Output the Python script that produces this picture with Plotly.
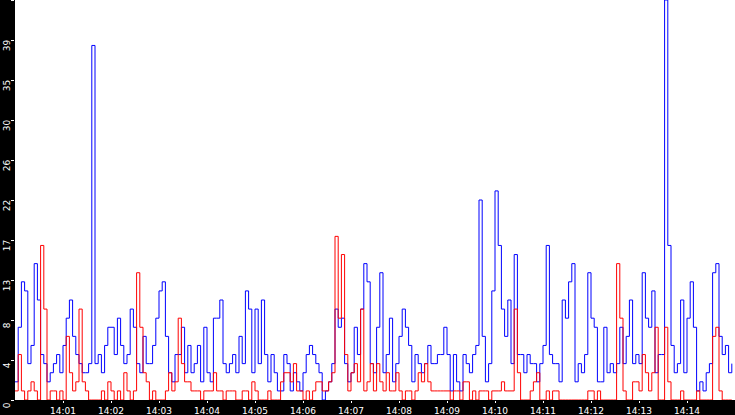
import pandas as pd
import plotly.graph_objects as go

# one sample every 4 s, 15 samples per minute, 14:00:00 -> 14:14:56
start = "2024-01-01 14:00:00"
step_s = 4

blue = [
    2, 8, 13, 12, 4, 6, 15, 11, 5, 4, 2, 3, 4, 5, 3,
    6, 9, 11, 7, 5, 4, 3, 3, 4, 39, 4, 5, 3, 6, 8,
    8, 5, 9, 6, 4, 5, 10, 8, 4, 3, 7, 4, 4, 6, 9,
    12, 13, 7, 3, 2, 5, 5, 8, 3, 6, 3, 4, 6, 2, 8,
    3, 2, 9, 9, 11, 4, 3, 4, 5, 3, 7, 4, 12, 10, 3,
    10, 4, 11, 5, 2, 5, 3, 1, 1, 5, 4, 1, 3, 2, 1,
    3, 5, 6, 5, 4, 3, 0, 1, 2, 4, 10, 8, 9, 4, 2,
    3, 8, 5, 10, 15, 13, 4, 3, 8, 14, 3, 5, 9, 2, 4,
    7, 10, 8, 6, 2, 5, 4, 3, 4, 6, 4, 4, 5, 5, 8,
    5, 1, 5, 2, 1, 5, 4, 3, 5, 6, 22, 7, 2, 4, 12,
    23, 17, 10, 7, 11, 4, 16, 5, 5, 3, 5, 4, 4, 2, 4,
    6, 17, 5, 4, 4, 2, 11, 9, 13, 15, 2, 4, 3, 5, 14,
    9, 8, 2, 2, 8, 3, 4, 3, 4, 8, 4, 7, 11, 4, 5,
    4, 14, 9, 8, 12, 3, 5, 5, 44, 17, 6, 3, 4, 11, 3,
    9, 13, 8, 1, 2, 1, 3, 4, 14, 15, 7, 5, 6, 3, 4,
]

red = [
    1, 5, 1, 0, 1, 2, 1, 0, 17, 10, 0, 1, 1, 0, 1,
    0, 7, 3, 1, 2, 10, 2, 1, 0, 0, 0, 0, 1, 0, 2,
    1, 0, 1, 0, 3, 1, 0, 1, 14, 8, 3, 2, 0, 1, 0,
    0, 0, 1, 3, 1, 2, 9, 4, 2, 2, 1, 1, 1, 0, 1,
    1, 1, 3, 1, 1, 0, 1, 1, 1, 0, 0, 1, 1, 0, 2,
    1, 0, 0, 0, 1, 0, 0, 0, 2, 3, 3, 2, 4, 1, 1,
    0, 1, 0, 1, 2, 2, 1, 1, 2, 3, 18, 9, 16, 5, 1,
    3, 4, 2, 10, 1, 2, 4, 1, 4, 2, 1, 3, 1, 1, 3,
    1, 0, 1, 1, 0, 1, 3, 2, 4, 2, 1, 1, 1, 1, 1,
    1, 0, 1, 1, 0, 2, 2, 0, 1, 0, 1, 1, 1, 0, 1,
    1, 1, 2, 1, 1, 1, 10, 3, 0, 0, 0, 1, 2, 3, 0,
    0, 1, 0, 1, 1, 0, 0, 0, 0, 0, 0, 0, 0, 0, 1,
    1, 0, 1, 0, 0, 0, 0, 0, 15, 9, 1, 0, 0, 2, 2,
    1, 5, 3, 1, 3, 8, 0, 0, 8, 2, 0, 0, 0, 1, 0,
    0, 0, 0, 1, 0, 0, 0, 0, 7, 8, 1, 0, 0, 0, 0,
]

y_ticks = [0, 4.4, 8.8, 13.2, 17.6, 22, 26.4, 30.8, 35.2, 39.6, 44]
y_labels = ["0", "4", "8", "13", "17", "22", "26", "30", "35", "39", "44"]
x_minutes = ["14:01", "14:02", "14:03", "14:04", "14:05", "14:06", "14:07",
             "14:08", "14:09", "14:10", "14:11", "14:12", "14:13", "14:14"]

t = pd.date_range(start, periods=len(blue), freq=f"{step_s}s")
x_tickvals = [pd.Timestamp(f"2024-01-01 {m}:00") for m in x_minutes]

fig = go.Figure()
fig.add_trace(go.Scatter(x=t, y=blue, mode="lines", line_shape="hv",
                         line=dict(color="#0000ff", width=1)))
fig.add_trace(go.Scatter(x=t, y=red, mode="lines", line_shape="hv",
                         line=dict(color="#ff0000", width=1)))

font = dict(family="DejaVu Sans", size=9, color="white")
fig.update_layout(
    width=735, height=415,
    margin=dict(l=15, r=0, t=0, b=15),
    paper_bgcolor="black",
    plot_bgcolor="white",
    showlegend=False,
    xaxis=dict(
        range=[pd.Timestamp("2024-01-01 14:00:00"), pd.Timestamp("2024-01-01 14:15:00")],
        tickvals=x_tickvals, ticktext=x_minutes,
        ticks="outside", ticklen=2, tickcolor="white", tickwidth=1,
        tickfont=font, showgrid=False, zeroline=False, showline=False,
        automargin=False,
    ),
    yaxis=dict(
        range=[0, 44],
        tickvals=y_ticks, ticktext=y_labels, tickangle=-90,
        ticklabelposition="outside bottom",
        ticks="outside", ticklen=3, tickcolor="white", tickwidth=1,
        tickfont=font, showgrid=False, zeroline=False, showline=False,
        automargin=False,
    ),
)

# drop the default page margin so the figure sits in the window corner
fig.write_html("out.html", config={"displayModeBar": False},
               post_script="document.body.style.margin='0';")
